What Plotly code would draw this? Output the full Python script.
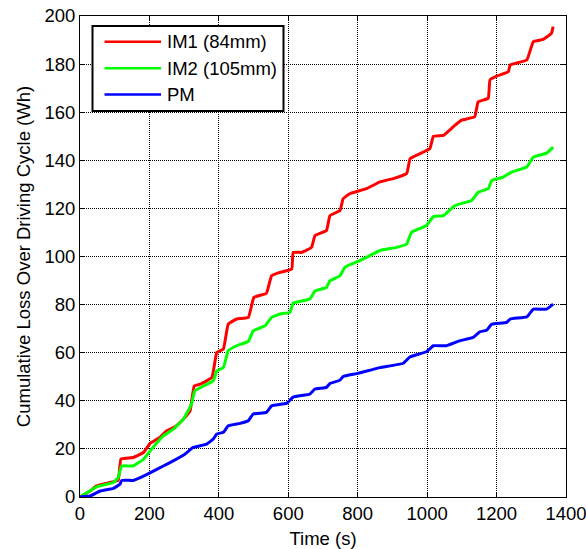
import plotly.graph_objects as go

# Time (s) and cumulative loss (Wh)
im1_t = [0, 29, 48, 86, 110, 118, 153, 183, 202, 230, 250, 274, 298, 317, 329, 346, 380, 394, 413, 427, 451,
         485, 501, 537, 552, 576, 610, 614, 638, 667, 677, 710, 720, 749, 758, 777, 825, 864, 902, 941, 951,
         980, 1008, 1018, 1047, 1075, 1099, 1137, 1147, 1176, 1181, 1200, 1234, 1239, 1287, 1306, 1334, 1358, 1363]
im1_v = [0, 2.5, 4.6, 6.0, 7.0, 15.8, 16.4, 18.5, 22.3, 24.8, 27.5, 29.2, 32.4, 35.8, 46.2, 46.9, 49.7, 60.1,
         61.5, 71.9, 74.0, 74.7, 83.0, 84.7, 92.0, 93.4, 94.8, 101.7, 101.7, 103.8, 108.7, 110.8, 117.0, 119.1,
         124.0, 126.1, 128.2, 131.0, 132.4, 134.5, 140.7, 142.8, 144.9, 150.0, 150.4, 153.9, 156.7, 158.1,
         164.3, 165.8, 173.4, 175.0, 176.8, 179.6, 181.7, 189.3, 190.3, 192.8, 195.6]

im2_t = [0, 48, 96, 110, 120, 153, 183, 206, 240, 269, 298, 321, 331, 384, 394, 413, 427, 451, 485, 499, 533,
         552, 576, 605, 614, 662, 677, 710, 720, 749, 763, 806, 835, 864, 912, 941, 955, 998, 1018, 1047, 1080,
         1128, 1147, 1176, 1186, 1219, 1243, 1287, 1306, 1344, 1363]
im2_v = [0, 4.2, 6.0, 8.1, 12.9, 12.9, 15.7, 19.9, 25.4, 28.2, 32.4, 38.6, 44.2, 48.3, 52.5, 53.8, 60.8, 62.9,
         64.7, 69.1, 71.2, 74.7, 76.1, 76.8, 80.6, 82.3, 85.7, 87.1, 89.9, 92.0, 95.5, 98.3, 100.4, 102.5,
         103.8, 105.2, 110.1, 112.9, 116.6, 117.0, 121.2, 123.3, 126.7, 128.2, 131.6, 133.0, 135.1, 137.2,
         141.3, 143.0, 145.5]

pm_t = [0, 29, 58, 96, 115, 120, 153, 183, 221, 259, 302, 326, 365, 384, 394, 413, 427, 461, 485, 499, 537,
        552, 595, 614, 662, 677, 710, 720, 749, 758, 797, 864, 931, 951, 998, 1018, 1056, 1095, 1133, 1152,
        1171, 1186, 1229, 1239, 1287, 1306, 1344, 1363]
pm_v = [0, 0.4, 2.5, 3.6, 5.3, 6.9, 6.9, 8.7, 11.5, 14.3, 17.8, 20.6, 22.0, 24.1, 26.2, 26.9, 29.6, 30.6, 31.7,
        34.5, 35.2, 37.9, 38.9, 41.5, 42.8, 44.9, 45.6, 47.2, 48.6, 50.1, 51.3, 53.8, 55.6, 58.3, 60.4, 62.9,
        62.9, 65.0, 66.4, 68.7, 69.3, 71.9, 72.6, 74.0, 74.9, 78.1, 78.1, 80.2]

series_names = ["IM1 (84mm)", "IM2 (105mm)", "PM"]
series_colors = ["#FF0000", "#00FF00", "#0000FF"]

x_ticks = [0, 200, 400, 600, 800, 1000, 1200, 1400]
y_ticks = [0, 20, 40, 60, 80, 100, 120, 140, 160, 180, 200]

FS = 18.5
W, H = 586, 549
ML, MR, MT, MB = 80, 20, 16, 52
PW, PH = W - ML - MR, H - MT - MB


def px_x(x):
    return (x - ML) / PW


def px_y(y):
    return (H - MB - y) / PH


fig = go.Figure()
for name, color, t, v in zip(series_names, series_colors, [im1_t, im2_t, pm_t], [im1_v, im2_v, pm_v]):
    fig.add_trace(go.Scatter(x=t, y=v, mode="lines", name=name, showlegend=False,
                             line=dict(color=color, width=3, shape="spline", smoothing=0.3)))

axis_common = dict(
    showline=True, linecolor="black", linewidth=1, mirror="ticks",
    ticks="inside", ticklen=5, tickcolor="black",
    showgrid=True, gridcolor="black", gridwidth=1, griddash="1px,1px",
    zeroline=False, tickfont=dict(size=FS, color="black"),
    automargin=False, ticklabeloverflow="allow",
)

fig.update_xaxes(range=[0, 1400], tickvals=x_ticks, ticktext=[str(v) for v in x_ticks],
                 title=dict(text="Time (s)", font=dict(size=FS, color="black"), standoff=9),
                 **axis_common)
fig.update_yaxes(range=[0, 200], tickvals=y_ticks, ticktext=[str(v) for v in y_ticks],
                 title=dict(text="Cumulative Loss Over Driving Cycle (Wh)", font=dict(size=FS, color="black"), standoff=8),
                 **axis_common)

# Custom MATLAB-style legend box
shapes = [dict(type="rect", xref="paper", yref="paper",
               x0=px_x(92.5), x1=px_x(283.5), y0=px_y(111), y1=px_y(26),
               line=dict(color="black", width=2), fillcolor="white", layer="above")]
annotations = []
legend_rows = [41.7, 68.3, 94.5]
for name, color, yy in zip(series_names, series_colors, legend_rows):
    shapes.append(dict(type="line", xref="paper", yref="paper",
                       x0=px_x(104.5), x1=px_x(161), y0=px_y(yy), y1=px_y(yy),
                       line=dict(color=color, width=2.5), layer="above"))
    annotations.append(dict(xref="paper", yref="paper", x=px_x(165), y=px_y(yy),
                            xanchor="left", yanchor="middle", text=name, showarrow=False,
                            font=dict(size=FS, color="black")))

fig.update_layout(
    width=W, height=H,
    margin=dict(l=ML, r=MR, t=MT, b=MB),
    paper_bgcolor="white", plot_bgcolor="white",
    font=dict(family="Arial, Liberation Sans, sans-serif", size=FS, color="black"),
    showlegend=False,
    shapes=shapes, annotations=annotations,
)

fig.write_html("out.html")
